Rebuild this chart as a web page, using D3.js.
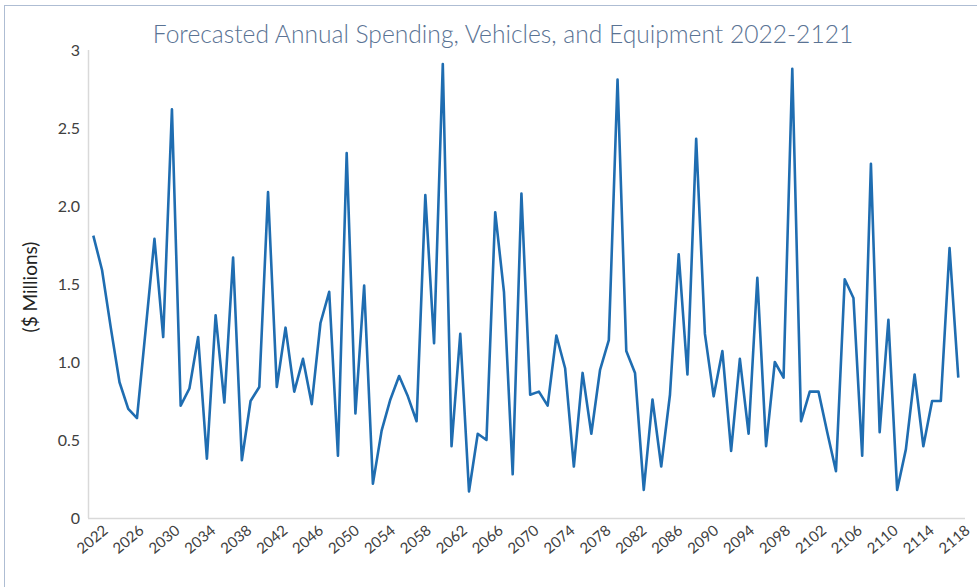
<!DOCTYPE html>
<html>
<head>
<meta charset="utf-8">
<script src="https://cdn.jsdelivr.net/npm/d3@7"></script>
<style>
  html, body { margin: 0; padding: 0; background: #fff; }
  svg { display: block; }
</style>
</head>
<body>
<svg id="chart" width="977" height="587"></svg>
<script>
const titleText = "Forecasted Annual Spending, Vehicles, and Equipment 2022-2121";
const yAxisTitle = "($ Millions)";
const startYear = 2022;
const endYear = 2121;
const years = d3.range(startYear, endYear + 1);
const spending = [
  1.81, 1.59, 1.22, 0.87, 0.70, 0.64, 1.21, 1.79, 1.16, 2.62,
  0.72, 0.83, 1.16, 0.38, 1.30, 0.74, 1.67, 0.37, 0.75, 0.84,
  2.09, 0.84, 1.22, 0.81, 1.02, 0.73, 1.25, 1.45, 0.40, 2.34,
  0.67, 1.49, 0.22, 0.56, 0.76, 0.91, 0.78, 0.62, 2.07, 1.12,
  2.91, 0.46, 1.18, 0.17, 0.54, 0.50, 1.96, 1.45, 0.28, 2.08,
  0.79, 0.81, 0.72, 1.17, 0.96, 0.33, 0.93, 0.54, 0.95, 1.14,
  2.81, 1.07, 0.93, 0.18, 0.76, 0.33, 0.79, 1.69, 0.92, 2.43,
  1.18, 0.78, 1.07, 0.43, 1.02, 0.54, 1.54, 0.46, 1.00, 0.90,
  2.88, 0.62, 0.81, 0.81, 0.55, 0.30, 1.53, 1.41, 0.40, 2.27,
  0.55, 1.27, 0.18, 0.44, 0.92, 0.46, 0.75, 0.75, 1.73, 0.90
];
const yTicks = [0, 0.5, 1, 1.5, 2, 2.5, 3];
const xTickYears = d3.range(2022, 2119, 4);

const svg = d3.select("#chart");

// outer frame
svg.append("rect")
  .attr("x", 4.5).attr("y", 5.5)
  .attr("width", 1000).attr("height", 700)
  .attr("fill", "none")
  .attr("stroke", "#aebdd3")
  .attr("stroke-width", 1);

const plot = { left: 88, right: 965, top: 50, bottom: 518 };

const x = d3.scalePoint().domain(years).range([93.3, 958.3]);
const y = d3.scaleLinear().domain([0, 3]).range([plot.bottom, plot.top]);
// tick label positions along the category axis
const xLab = d3.scaleLinear().domain([2022, 2118]).range([100, 962]);

// axes lines
svg.append("line")
  .attr("x1", plot.left).attr("x2", plot.right)
  .attr("y1", y(0) + 0.5).attr("y2", y(0) + 0.5)
  .attr("stroke", "#d9d9d9").attr("stroke-width", 1.5);
svg.append("line")
  .attr("x1", plot.left + 0.5).attr("x2", plot.left + 0.5)
  .attr("y1", y(3)).attr("y2", y(0))
  .attr("stroke", "#d9d9d9").attr("stroke-width", 1.5);

// y axis
const yAxis = d3.axisLeft(y)
  .tickValues(yTicks)
  .tickSize(0)
  .tickPadding(8)
  .tickFormat(d => (d === 0 || d === 3) ? String(d) : d.toFixed(1));
const gy = svg.append("g")
  .attr("transform", `translate(${plot.left},0)`)
  .call(yAxis);
gy.select(".domain").remove();
gy.selectAll("text")
  .attr("font-family", "Lato, 'Open Sans', sans-serif")
  .attr("font-size", 16)
  .attr("fill", "#404040");

// x axis labels
const xAxis = d3.axisBottom(xLab)
  .tickValues(xTickYears)
  .tickSize(0)
  .tickFormat(d => String(d));
const gx = svg.append("g")
  .attr("transform", `translate(0,${plot.bottom + 4})`)
  .call(xAxis);
gx.select(".domain").remove();
gx.selectAll("text")
  .attr("font-family", "Lato, 'Open Sans', sans-serif")
  .attr("font-size", 15)
  .attr("fill", "#404040")
  .attr("text-anchor", "end")
  .attr("dy", "0.75em")
  .attr("y", 2)
  .attr("transform", "rotate(-40)");

// line
svg.append("path")
  .datum(spending)
  .attr("fill", "none")
  .attr("stroke", "#1f6db1")
  .attr("stroke-width", 2.6)
  .attr("stroke-linejoin", "round")
  .attr("d", d3.line().x((d, i) => x(years[i])).y(d => y(d)));

// title
const title = svg.append("text")
  .attr("x", 503).attr("y", 43)
  .attr("text-anchor", "middle")
  .attr("font-family", "Lato, 'Open Sans', sans-serif")
  .attr("font-weight", 300)
  .attr("font-size", 22)
  .attr("fill", "#5a7394")
  .text(titleText);
const tw = title.node().getComputedTextLength();
title.attr("font-size", 22 * 701 / tw);

// y axis title
svg.append("text")
  .attr("transform", `translate(37,287) rotate(-90)`)
  .attr("text-anchor", "middle")
  .attr("font-family", "Lato, 'Open Sans', sans-serif")
  .attr("font-size", 19)
  .attr("fill", "#222")
  .text(yAxisTitle);
</script>
</body>
</html>
